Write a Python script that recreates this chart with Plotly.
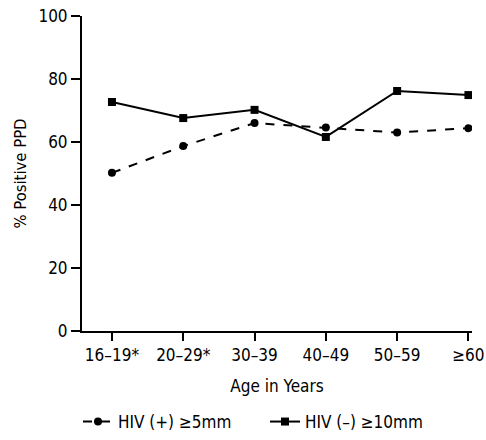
import plotly.graph_objects as go

categories = ["16–19*", "20–29*", "30–39", "40–49", "50–59", "≥60"]
hiv_pos = [50.2, 58.7, 66.0, 64.6, 63.0, 64.4]
hiv_neg = [72.7, 67.6, 70.2, 61.6, 76.2, 74.9]
y_ticks = [0, 20, 40, 60, 80, 100]

FONT = "DejaVu Sans Condensed, Liberation Sans Narrow, Arial Narrow, sans-serif"

fig = go.Figure()
fig.add_trace(go.Scatter(
    x=list(range(len(categories))), y=hiv_pos, mode="lines+markers",
    name="HIV (+) ≥5mm",
    line=dict(color="black", width=2, dash="dash"),
    marker=dict(symbol="circle", size=8, color="black"),
))
fig.add_trace(go.Scatter(
    x=list(range(len(categories))), y=hiv_neg, mode="lines+markers",
    name="HIV (–) ≥10mm",
    line=dict(color="black", width=2),
    marker=dict(symbol="square", size=8, color="black"),
))

fig.update_layout(
    width=486, height=440,
    margin=dict(l=82, r=14, t=16, b=109),
    paper_bgcolor="white", plot_bgcolor="white",
    font=dict(family=FONT, size=17, color="black"),
    showlegend=True,
    legend=dict(orientation="h", x=265 / 486, xref="container", xanchor="center",
                y=12, yref="container", yanchor="middle",
                entrywidth=142, entrywidthmode="pixels",
                font=dict(size=17), tracegroupgap=0),
    xaxis=dict(
        range=[-0.42, 5.05], automargin=False,
        tickmode="array", tickvals=list(range(len(categories))), ticktext=categories,
        showline=True, linecolor="black", linewidth=2,
        ticks="outside", ticklen=8, tickwidth=2, tickcolor="black",
        showgrid=False, zeroline=False,
        title=dict(text="Age in Years", standoff=16, font=dict(size=17)),
    ),
    yaxis=dict(
        range=[0, 100], tickvals=y_ticks, automargin=False,
        showline=True, linecolor="black", linewidth=2,
        ticks="outside", ticklen=9, tickwidth=2, tickcolor="black",
        showgrid=False, zeroline=False,
        title=dict(text="% Positive PPD", standoff=8, font=dict(size=16.5)),
    ),
)

fig.write_html("out.html", config={"displayModeBar": False},
               post_script="document.body.style.margin='0';")
